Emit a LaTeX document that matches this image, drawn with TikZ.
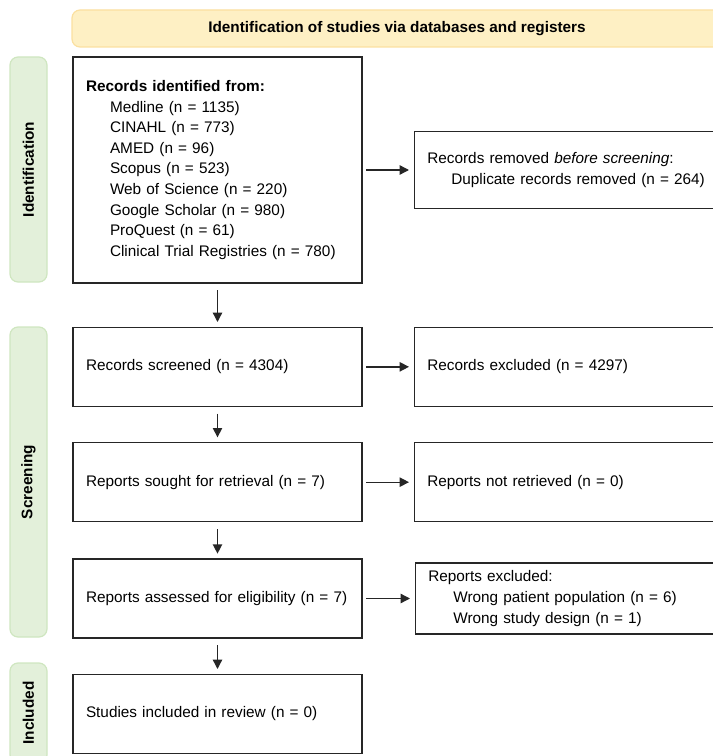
\documentclass[tikz,border=0pt]{standalone}
\usepackage{fontspec}
\setmainfont{Liberation Sans}
\usetikzlibrary{positioning, arrows.meta}
\definecolor{bannerfill}{HTML}{FEF0C4}
\definecolor{bannerline}{HTML}{FBE0A0}
\definecolor{phasefill}{HTML}{E3F0DA}
\definecolor{phaseline}{HTML}{CFE6C0}

\begin{document}
\begin{tikzpicture}[
    x=0.75pt, y=-0.75pt,
    box/.style={draw=black!85, line width=1pt, rectangle, minimum width=216.75pt, minimum height=59.25pt, text width=197.25pt, inner xsep=9.75pt, align=left, font=\fontsize{11.5}{15.4}\selectfont},
    sidebox/.style={box, minimum width=231.75pt, text width=212.25pt},
    phase/.style={draw=phaseline, fill=phasefill, line width=0.9pt, rounded corners=6pt, rotate=90, minimum height=27.75pt, inner sep=0pt, font=\bfseries\fontsize{11.5}{13}\selectfont},
    banner/.style={draw=bannerline, fill=bannerfill, line width=0.9pt, rounded corners=6pt, minimum width=487.5pt, minimum height=27.75pt, font=\bfseries\fontsize{11.5}{13}\selectfont},
    arr/.style={-{Triangle[length=7pt,width=7pt]}, black!85, line width=1pt, shorten <=2.5pt, shorten >=3.5pt},
    down/.style={arr, shorten <=5pt, shorten >=3.5pt}
]
    \useasboundingbox (0,0) rectangle (713,756);
    \clip (0,0) rectangle (713,756);

    % Banner and phases
    \node[banner] (head) at (397,28.5) {Identification of studies via databases and registers};
    \node[phase, minimum width=168.75pt] (pid) at (28.5,169.5) {Identification};
    \node[phase, minimum width=232.5pt] (pscr) at (28.5,482) {Screening};
    \node[phase, minimum width=75pt] (pinc) at (28.5,713) {Included};

    % Identification
    \node[box, minimum height=169.5pt] (ident) at (217.5,170) {\textbf{Records identified from:}\\
        \hspace*{18pt}Medline (n = 1135)\\
        \hspace*{18pt}CINAHL (n = 773)\\
        \hspace*{18pt}AMED (n = 96)\\
        \hspace*{18pt}Scopus (n = 523)\\
        \hspace*{18pt}Web of Science (n = 220)\\
        \hspace*{18pt}Google Scholar (n = 980)\\
        \hspace*{18pt}ProQuest (n = 61)\\
        \hspace*{18pt}Clinical Trial Registries (n = 780)};
    \node[sidebox, minimum height=57.75pt] (removed) [right=38.25pt of ident] {Records removed \textit{before screening}:\\
        \hspace*{18pt}Duplicate records removed (n = 264)};

    % Screening
    \node[box] (screened) [below=32.25pt of ident] {Records screened (n = 4304)};
    \node[sidebox] (excluded) [right=38.25pt of screened] {Records excluded (n = 4297)};

    \node[box] (sought) [below=26.25pt of screened] {Reports sought for retrieval (n = 7)};
    \node[sidebox] (notret) [right=38.25pt of sought] {Reports not retrieved (n = 0)};

    \node[box] (assessed) [below=27pt of sought] {Reports assessed for eligibility (n = 7)};
    \node[sidebox, minimum height=53.25pt, minimum width=231pt, text width=211.5pt] (repexcl) [right=39pt of assessed] {Reports excluded:\\
        \hspace*{18.75pt}Wrong patient population (n = 6)\\
        \hspace*{18.75pt}Wrong study design (n = 1)};

    % Included
    \node[box] (included) [below=26.25pt of assessed] {Studies included in review (n = 0)};

    % Arrows
    \draw[down] (ident) -- (screened);
    \draw[down] (screened) -- (sought);
    \draw[down] (sought) -- (assessed);
    \draw[down] (assessed) -- (included);
    \draw[arr] (ident.east) -- (removed.west);
    \draw[arr] (screened) -- (excluded);
    \draw[arr] (sought) -- (notret);
    \draw[arr] (assessed.east) -- (assessed.east -| repexcl.west);

\end{tikzpicture}
\end{document}
